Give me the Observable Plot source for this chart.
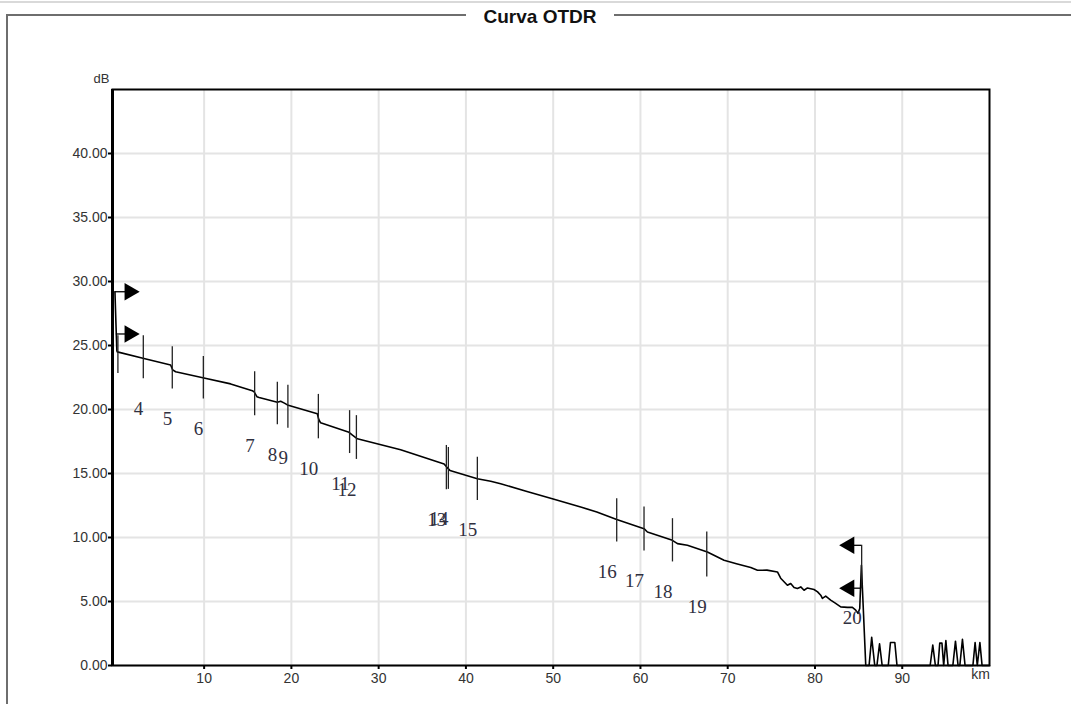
<!DOCTYPE html>
<html><head><meta charset="utf-8">
<script src="https://cdn.jsdelivr.net/npm/d3@7"></script>
<script src="https://cdn.jsdelivr.net/npm/@observablehq/plot@0.6"></script>
<style>
html,body{margin:0;padding:0;background:#fff;overflow:hidden}
#wrap{position:relative;width:1071px;height:704px;font-family:"Liberation Sans",Arial,sans-serif}
#topline{position:absolute;left:0;top:1px;width:1071px;height:2px;background:#d9d9d9}
#frame{position:absolute;left:6px;top:14px;width:1100px;height:800px;border-top:2px solid #6e6e6e;border-left:2px solid #6e6e6e}
#title{position:absolute;left:466px;top:4px;width:148px;height:26px;line-height:26px;text-align:center;background:#fff;font-weight:bold;font-size:19px;color:#111}
#chart{position:absolute;left:0;top:30px}
</style></head>
<body>
<div id="wrap">
  <div id="topline"></div>
  <div id="frame"></div>
  <div id="title">Curva OTDR</div>
  <div id="chart"></div>
</div>
<script>
// ---- data ----
const xDomain = [-0.5, 100];
const yDomain = [0, 45];
const xTicks = [10, 20, 30, 40, 50, 60, 70, 80, 90];
const yTicks = [0, 5, 10, 15, 20, 25, 30, 35, 40];

const traceKm = [-0.22, -0.1, 0.0, 0.05, 3.10, 6.16, 6.40, 6.73, 9.98, 13.04, 15.52, 15.71, 16.05, 16.30,
  18.39, 18.77, 19.20, 19.54, 22.97, 23.15, 23.35, 26.60, 27.0, 27.56, 32.52, 37.5, 37.8, 38.17,
  41.31, 42.84, 43.98, 47.0, 50.0, 53.15, 55.0, 57.28, 60.41, 60.80, 63.66, 64.24, 65.38, 67.67,
  69.58, 71.0, 72.64, 73.41, 74.5, 75.70, 76.07, 76.84, 77.22, 77.6, 77.99, 78.37, 78.75, 79.14,
  79.89, 80.3, 80.66, 80.85, 81.23, 81.80, 82.37, 82.95, 83.72, 84.29, 84.67, 84.93, 85.13, 85.32,
  85.51, 85.82, 86.2, 86.5, 86.85, 87.1, 87.4, 87.7, 88.4, 88.65, 89.15, 89.4, 93.2, 93.5, 93.8,
  94.1, 94.3, 94.55, 94.75, 95.0, 95.25, 95.8, 96.1, 96.4, 96.6, 96.9, 97.2, 98.1, 98.35, 98.6,
  98.9, 99.15, 100];
const traceDb = [29.2, 26.6, 24.6, 24.5, 23.99, 23.48, 23.1, 22.95, 22.46, 22.00, 21.47, 21.40, 21.0, 20.93,
  20.56, 20.64, 20.5, 20.36, 19.66, 19.2, 18.96, 18.22, 18.0, 17.71, 16.85, 15.75, 15.5, 15.24,
  14.59, 14.40, 14.20, 13.6, 13.0, 12.38, 12.0, 11.40, 10.69, 10.43, 9.78, 9.52, 9.39, 8.87,
  8.22, 7.95, 7.65, 7.44, 7.45, 7.31, 6.82, 6.27, 6.41, 6.1, 6.02, 6.14, 5.88, 6.06,
  5.94, 5.75, 5.49, 5.24, 5.42, 5.11, 4.85, 4.58, 4.54, 4.54, 4.33, 4.07, 4.46, 7.83,
  4.87, 0, 0, 2.2, 0, 0, 1.7, 0, 0, 1.8, 1.8, 0, 0, 1.6, 0,
  0, 1.75, 1.75, 0, 1.95, 0, 0, 1.9, 0, 0, 2.05, 0, 0, 1.8, 0,
  1.8, 0, 0];

const eventIds    = ["3", "4", "5", "6", "7", "8", "9", "10", "11", "12", "13", "14", "15", "16", "17", "18", "19", "20"];
const eventKm     = [0.12, 3.03, 6.35, 9.91, 15.79, 18.39, 19.6, 23.09, 26.67, 27.45, 37.76, 37.99, 41.31, 57.28, 60.41, 63.67, 67.6, 85.35];
const eventTop    = [25.77, 25.77, 24.9, 24.15, 22.95, 22.12, 21.89, 21.18, 19.91, 19.52, 17.19, 17.03, 16.27, 13.03, 12.38, 11.47, 10.43, 9.39];
const eventBottom = [22.81, 22.41, 21.6, 20.83, 19.52, 18.8, 18.53, 17.71, 16.56, 16.1, 13.73, 13.76, 12.9, 9.65, 8.95, 8.09, 6.92, 6.04];
const eventShowLabel = [false, true, true, true, true, true, true, true, true, true, true, true, true, true, true, true, true, true];

const markerStemKm = [-0.2, -0.06, 85.35, 85.35];
const markerHeadKm = [1.46, 1.46, 83.93, 83.93];
const markerDb     = [29.2, 25.9, 9.39, 6.04];
const markerRotate = [90, 90, -90, -90];

// ---- tables ----
const trace = traceKm.map((km, i) => ({km, db: traceDb[i]}));
const events = eventIds.map((id, i) => ({id, km: eventKm[i], top: eventTop[i], bottom: eventBottom[i], show: eventShowLabel[i]}));
const markers = markerDb.map((db, i) => ({db, stem: markerStemKm[i], head: markerHeadKm[i], rot: markerRotate[i]}));

const chart = Plot.plot({
  width: 1071, height: 674,
  marginLeft: 112, marginRight: 82, marginTop: 59, marginBottom: 39,
  x: {domain: xDomain, axis: null},
  y: {domain: yDomain, axis: null},
  style: {fontFamily: "'Liberation Sans', Arial, sans-serif", fontSize: "14px", color: "#333", background: "transparent"},
  marks: [
    Plot.gridX(xTicks, {stroke: "#e4e4e4", strokeOpacity: 1, strokeWidth: 2}),
    Plot.gridY(yTicks, {stroke: "#e4e4e4", strokeOpacity: 1, strokeWidth: 2}),
    Plot.axisX(xTicks, {tickSize: 4, tickPadding: 4, stroke: "#000", strokeWidth: 2, fill: "#333", fontSize: 14, label: null}),
    Plot.axisY(yTicks, {tickSize: 4, tickPadding: 1, stroke: "#000", strokeWidth: 2, fill: "#333", fontSize: 14, label: null, tickFormat: d3.format(".2f")}),
    Plot.frame({stroke: "#000", strokeWidth: 2}),
    Plot.ruleX([xDomain[0]], {stroke: "#000", strokeWidth: 3}),
    Plot.line(trace, {x: "km", y: "db", stroke: "#000", strokeWidth: 1.6}),
    Plot.ruleX(events, {x: "km", y1: "bottom", y2: "top", stroke: "#222", strokeWidth: 1.3}),
    Plot.text(events.filter(d => d.show), {x: "km", y: "bottom", text: "id", dy: 30, textAnchor: "end", lineAnchor: "middle",
      fontFamily: "'Liberation Serif', 'Times New Roman', serif", fontSize: 19, fill: "#30303f"}),
    Plot.ruleY(markers, {y: "db", x1: "stem", x2: "head", stroke: "#000", strokeWidth: 1.3}),
    Plot.dot(markers, {x: "head", y: "db", symbol: "triangle", r: 6.5, fill: "#000", stroke: "none", rotate: "rot"}),
    Plot.text(["dB"], {frameAnchor: "top-left", dx: -11, dy: -16, text: d => d, fontSize: 13, fill: "#333", textAnchor: "middle"}),
    Plot.text(["km"], {frameAnchor: "bottom-right", dx: -9, dy: 13, text: d => d, fontSize: 14, fill: "#333", textAnchor: "middle"})
  ]
});
document.getElementById("chart").appendChild(chart);
</script>
</body></html>
